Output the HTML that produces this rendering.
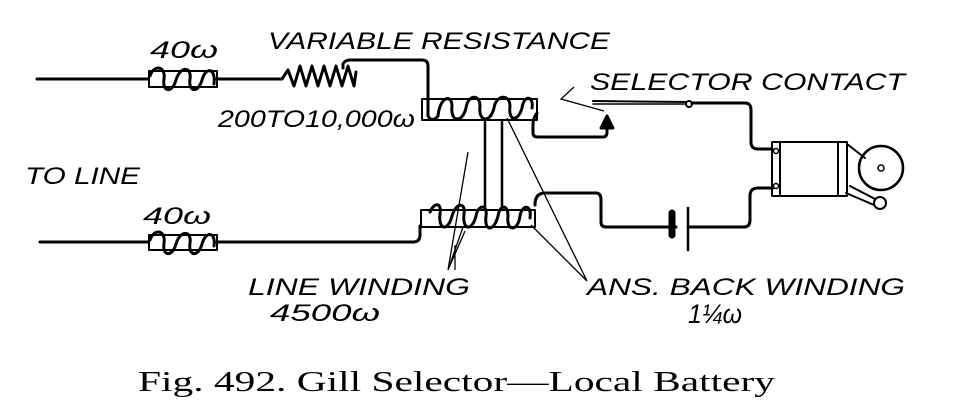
<!DOCTYPE html>
<html><head><style>
html,body{margin:0;padding:0;background:#fff;}
svg{display:block}
.l{font-family:"Liberation Sans",sans-serif;font-style:italic;font-size:24px;fill:#000}
.c{font-family:"Liberation Serif",serif;font-size:29px;fill:#000}
</style></head><body>
<svg width="959" height="416" viewBox="0 0 959 416" xmlns="http://www.w3.org/2000/svg">
<g fill="none" stroke="#000" stroke-width="3" stroke-linecap="round" stroke-linejoin="round">
<path d="M37 79 H148"/>
<rect x="149" y="71" width="68" height="16" stroke-width="2"/>
<path d="M150 76 C154 64 166 66 164 79 C162 92 172 94 176 80 C180 66 192 66 190 79 C188 92 198 94 202 80 C206 66 216 68 214 84"/>
<path d="M217 79 H282 L288 70 L294 86 L300 66 L306 86 L312 66 L318 86 L324 66 L330 86 L336 66 L342 86 L348 66 L354 86 L356 72"/>
<path d="M343 68 V64 Q345 60 350 60 H422 Q428 60 428 66 V100"/>
<rect x="422" y="99" width="115" height="21" stroke-width="2"/>
<path d="M428 100 V116 Q432 123 438 116 C440 96 452 94 452 106 C450 122 462 124 466 108 C468 94 480 94 480 106 C478 122 490 124 494 108 C496 94 510 94 510 106 C508 122 518 122 522 108 C524 94 534 96 532 108"/>
<path d="M537 113 Q533 118 533 125 V133 Q533 137 538 137 H603 Q607 137 607 132 V124"/>
<path d="M601 128 L607 116 L613 128 Z" fill="#000"/>
<path d="M40 242 H148"/>
<rect x="149" y="235" width="68" height="15" stroke-width="2"/>
<path d="M150 240 C154 228 166 230 164 243 C162 256 172 258 176 244 C180 230 192 230 190 243 C188 256 198 258 202 244 C206 230 216 232 214 246"/>
<path d="M217 242 H413 Q420 242 420 235 V226"/>
<rect x="421" y="210" width="114" height="17" stroke-width="2"/>
<path d="M430 212 C434 202 442 202 440 214 C438 230 448 232 452 216 C456 202 466 202 464 214 C462 230 472 232 476 216 C478 204 488 204 486 216 C484 232 494 232 498 216 C500 204 508 204 508 216 C506 232 518 232 520 216 C522 204 532 204 530 218"/>
<path d="M485 120 V210 M502 120 V210" stroke-width="2.5"/>
<path d="M535 205 Q535 193 545 193 H596 Q601 193 601 200 V222 Q601 227 606 227 H676"/>
<path d="M672 213 V235" stroke-width="7"/>
<path d="M688 208 V250" stroke-width="2.5"/>
<path d="M688 227 H744 Q750 227 750 220 V196 Q750 188 758 188 H773"/>
<path d="M593 101 L688 102" stroke-width="2"/>
<path d="M593 104 L686 104" stroke-width="1.5"/>
<circle cx="689" cy="104" r="3" stroke-width="2" fill="#fff"/>
<path d="M692 103 H745 Q751 103 751 110 V142 Q751 149 758 149 H772"/>
<rect x="772" y="142" width="75" height="54" stroke-width="2"/>
<path d="M780 142 V196 M838 142 V196" stroke-width="2"/>
<circle cx="776" cy="151" r="2.5" stroke-width="1.5"/>
<circle cx="776" cy="186" r="2.5" stroke-width="1.5"/>
<path d="M847 144 L865 158" stroke-width="2"/>
<circle cx="881" cy="168" r="22" stroke-width="2.5"/>
<circle cx="881" cy="168" r="3" stroke-width="1.5"/>
<path d="M850 186 L877 200 M846 193 L874 205" stroke-width="2"/>
<circle cx="880" cy="203" r="6" stroke-width="2" fill="#fff"/>
</g>
<g fill="none" stroke="#000" stroke-width="1.3">
<path d="M604 111 L561 99 L574 87"/>
<path d="M448 270 L468 152 M448 270 L465 231 M448 270 L463 227"/>
<path d="M587 281 L507 118 M587 281 L531 225"/>
<path d="M455 270 L455 245"/>
</g>
<text class="l" x="150" y="58" textLength="68" lengthAdjust="spacingAndGlyphs">40ω</text>
<text class="l" x="268" y="49" textLength="342" lengthAdjust="spacingAndGlyphs">VARIABLE RESISTANCE</text>
<text class="l" x="218" y="127" textLength="197" lengthAdjust="spacingAndGlyphs">200TO10,000ω</text>
<text class="l" x="25" y="184" textLength="115" lengthAdjust="spacingAndGlyphs">TO LINE</text>
<text class="l" x="143" y="224" textLength="68" lengthAdjust="spacingAndGlyphs">40ω</text>
<text class="l" x="590" y="90" textLength="315" lengthAdjust="spacingAndGlyphs">SELECTOR CONTACT</text>
<text class="l" x="248" y="295" textLength="222" lengthAdjust="spacingAndGlyphs">LINE WINDING</text>
<text class="l" x="270" y="321" textLength="110" lengthAdjust="spacingAndGlyphs">4500ω</text>
<text class="l" x="587" y="295" textLength="318" lengthAdjust="spacingAndGlyphs">ANS. BACK WINDING</text>
<text class="l" x="688" y="323" style="font-size:27px" textLength="54" lengthAdjust="spacingAndGlyphs">1¼ω</text>
<text class="c" x="138" y="391" textLength="637" lengthAdjust="spacingAndGlyphs">Fig. 492.  Gill Selector—Local Battery</text>
</svg>
</body></html>
